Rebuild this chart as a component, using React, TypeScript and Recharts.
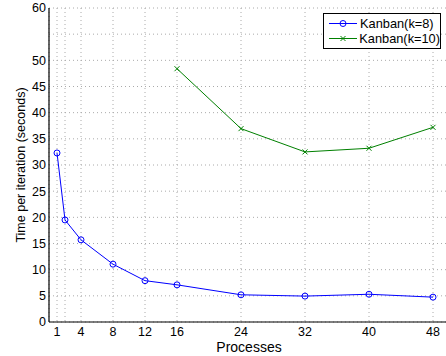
import { CartesianGrid, Legend, Line, LineChart, XAxis, YAxis } from "recharts";

// number of processes on the x axis
const processes = [1, 2, 4, 8, 12, 16, 24, 32, 40, 48];
// time per iteration (seconds)
const kanbanK8 = [32.3, 19.5, 15.7, 11.05, 7.9, 7.1, 5.2, 4.95, 5.3, 4.75];
const kanbanK10 = [null, null, null, null, null, 48.4, 36.95, 32.5, 33.2, 37.2];

const xTicks = [1, 2, 4, 8, 12, 16, 24, 32, 40, 48];
const yTicks = [0, 5, 10, 15, 20, 25, 30, 35, 40, 45, 50, 55, 60];
const unlabeledX = [2];
const unlabeledY = [55];

const BLUE = "#0000ff";
const GREEN = "#008000";
const FONT = "'Liberation Sans', Arial, Helvetica, sans-serif";

const data = processes.map((p, i) => ({ p, k8: kanbanK8[i], k10: kanbanK10[i] }));

const crossPath = (cx: number, cy: number, s: number) =>
  `M${cx - s},${cy - s}L${cx + s},${cy + s}M${cx - s},${cy + s}L${cx + s},${cy - s}`;

const CrossDot = (props: any) => {
  const { cx, cy, index } = props;
  if (cx == null || cy == null || props.value == null) return <g key={`x-${index}`} />;
  return <path key={`x-${index}`} d={crossPath(cx, cy, 2.5)} stroke={GREEN} strokeWidth={1} fill="none" />;
};

const legendItems = [
  { name: "Kanban(k=8)", color: BLUE, marker: "circle" },
  { name: "Kanban(k=10)", color: GREEN, marker: "cross" },
];

const LegendBox = () => (
  <div
    style={{
      border: "1px solid #000",
      background: "#fff",
      width: 116,
      padding: "2px 0",
      fontFamily: FONT,
      fontSize: 12.8,
      color: "#000",
      lineHeight: "15px",
    }}
  >
    {legendItems.map((it) => (
      <div key={it.name} style={{ display: "flex", alignItems: "center", height: 15 }}>
        <svg width={36} height={15} style={{ display: "block" }}>
          <line x1={5} y1={7.5} x2={33} y2={7.5} stroke={it.color} strokeWidth={1} />
          {it.marker === "circle" ? (
            <circle cx={19} cy={7.5} r={3} stroke={it.color} fill="none" />
          ) : (
            <path d={crossPath(19, 7.5, 2.5)} stroke={it.color} fill="none" />
          )}
        </svg>
        <span style={{ whiteSpace: "nowrap" }}>{it.name}</span>
      </div>
    ))}
  </div>
);

const tickStyle = { fill: "#000", fontSize: 12.5, fontFamily: FONT };

export default function App() {
  return (
    <div style={{ position: "absolute", left: 0, top: 0, width: 446, height: 356, overflow: "hidden", background: "#fff" }}>
      <LineChart width={460} height={356} data={data} margin={{ top: 8, right: 11, bottom: 0, left: 0 }}>
        <CartesianGrid stroke="#aaa" strokeDasharray="1 3" />
        <XAxis
          dataKey="p"
          type="number"
          domain={[0, 50]}
          allowDataOverflow
          ticks={xTicks}
          interval={0}
          height={34}
          tickLine={false}
          tickSize={0}
          tickMargin={5}
          tick={tickStyle}
          tickFormatter={(v) => (unlabeledX.includes(v) ? "" : String(v))}
          axisLine={{ stroke: "#000", strokeWidth: 1.2 }}
          label={{
            content: ({ viewBox }: any) => (
              <text
                x={viewBox.x + viewBox.width / 2}
                y={viewBox.y + viewBox.height - 4.5}
                textAnchor="middle"
                fontSize={14}
                fontFamily={FONT}
                fill="#000"
              >
                Processes
              </text>
            ),
          }}
        />
        <XAxis xAxisId="bt" orientation="bottom" mirror type="number" domain={[0, 50]} allowDataOverflow ticks={xTicks} interval={0} height={0} tick={false} tickSize={5} tickLine={{ stroke: "#000" }} axisLine={false} />
        <XAxis xAxisId="top" orientation="top" mirror type="number" domain={[0, 50]} allowDataOverflow ticks={xTicks} interval={0} height={0} tick={false} tickSize={5} tickLine={{ stroke: "#000" }} axisLine={{ stroke: "#000", strokeWidth: 1.2 }} />
        <YAxis
          type="number"
          domain={[0, 60]}
          allowDataOverflow
          ticks={yTicks}
          interval={0}
          width={49}
          tickLine={false}
          tickSize={0}
          tickMargin={3}
          tick={tickStyle}
          tickFormatter={(v) => (unlabeledY.includes(v) ? "" : String(v))}
          axisLine={{ stroke: "#000", strokeWidth: 1.2 }}
          label={{
            content: ({ viewBox }: any) => {
              const x = viewBox.x + 21;
              const y = viewBox.y + viewBox.height / 2;
              return (
                <text
                  x={x}
                  y={y}
                  transform={`rotate(-90 ${x} ${y})`}
                  textAnchor="middle"
                  dominantBaseline="central"
                  fontSize={12.5}
                  fontFamily={FONT}
                  fill="#000"
                >
                  Time per iteration (seconds)
                </text>
              );
            },
          }}
        />
        <YAxis yAxisId="lt" orientation="left" mirror type="number" domain={[0, 60]} allowDataOverflow ticks={yTicks} interval={0} width={0} tick={false} tickSize={5} tickLine={{ stroke: "#000" }} axisLine={false} />
        <YAxis yAxisId="right" orientation="right" mirror type="number" domain={[0, 60]} allowDataOverflow ticks={yTicks} interval={0} width={0} tick={false} tickSize={5} tickLine={{ stroke: "#000" }} axisLine={{ stroke: "#000", strokeWidth: 1.2 }} />
        <Legend
          layout="vertical"
          align="center"
          verticalAlign="middle"
          content={() => <LegendBox />}
          wrapperStyle={{ position: "absolute", top: 13, left: 323, width: 118, height: "auto" }}
        />
        <Line
          dataKey="k8"
          name="Kanban(k=8)"
          stroke={BLUE}
          strokeWidth={1}
          dot={{ r: 3, stroke: BLUE, fill: "none", strokeWidth: 1 }}
          activeDot={false}
          isAnimationActive={false}
        />
        <Line
          dataKey="k10"
          name="Kanban(k=10)"
          stroke={GREEN}
          strokeWidth={1}
          dot={CrossDot}
          activeDot={false}
          isAnimationActive={false}
        />
      </LineChart>
    </div>
  );
}
